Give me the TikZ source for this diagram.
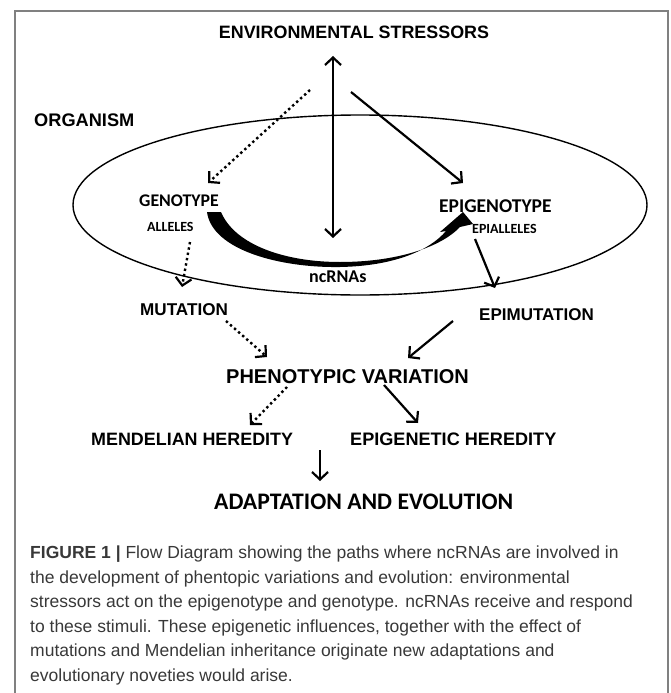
\documentclass[tikz,border=0pt]{standalone}
\usepackage{fontspec}
\setmainfont{Liberation Sans}
\newfontfamily\calib{Carlito}
\usetikzlibrary{arrows.meta}

\begin{document}
\begin{tikzpicture}[x=1pt,y=-1pt,
    arial/.style={font=\bfseries\fontsize{#1}{#1}\selectfont, inner sep=0pt, anchor=base west},
    calibri/.style={font=\calib\bfseries\fontsize{#1}{#1}\selectfont, inner sep=0pt, anchor=base west},
    barb/.tip={Straight Barb[length=7.5pt,width=16pt,line width=2.2pt]},
    flow/.style={line width=2.2pt, -barb},
    dotflow/.style={flow, line width=2.4pt, dash pattern=on 2.4pt off 3pt}]
    \useasboundingbox (0,0) rectangle (670,693);
    % frame
    \draw[gray, line width=1.5pt] (15,693) |- (668,11) -- (668,693);
    % organism
    \draw[line width=1.4pt] (360,205) ellipse [x radius=287, y radius=90];
    % labels
    \node[arial=17.9, anchor=base] (stress) at (354,39) {ENVIRONMENTAL STRESSORS};
    \node[arial=18.2] (organism) at (34,126) {ORGANISM};
    \node[calibri=17.8] (geno) at (139,206) {GENOTYPE};
    \node[calibri=14] (alleles) at (147,231) {ALLELES};
    \node[calibri=19.5] (epigeno) at (439,212) {EPIGENOTYPE};
    \node[calibri=14] (epialleles) at (472,233) {EPIALLELES};
    \node[calibri=18] (ncrna) at (309,282) {ncRNAs};
    \node[arial=17.1] (mut) at (140,315) {MUTATION};
    \node[arial=17.0] (epimut) at (479,320) {EPIMUTATION};
    \node[arial=20] (pheno) at (226,383) {PHENOTYPIC VARIATION};
    \node[arial=17.9] (mendel) at (91,445) {MENDELIAN HEREDITY};
    \node[arial=18.1] (epiher) at (350,445) {EPIGENETIC HEREDITY};
    \node[calibri=23.7] (adapt) at (214,509) {ADAPTATION AND EVOLUTION};
    % ends of the connectors
    \coordinate (stressTop) at (333,56);
    \coordinate (stressLow) at (333,238);
    \coordinate (stressL) at (310,90);
    \coordinate (stressR) at (351,92);
    \coordinate (genoIn) at (208,183);
    \coordinate (epigenoIn) at (463,183);
    \coordinate (allelesOut) at (190,242);
    \coordinate (mutIn) at (182,287);
    \coordinate (epiallelesOut) at (475,239);
    \coordinate (epimutIn) at (495,288);
    \coordinate (mutOut) at (226,321);
    \coordinate (epimutOut) at (453,321);
    \coordinate (phenoL) at (267,357);
    \coordinate (phenoR) at (408,358);
    \coordinate (phenoOutL) at (287,387);
    \coordinate (phenoOutR) at (384,385);
    \coordinate (mendelIn) at (250,425);
    \coordinate (epiherIn) at (418,423);
    \coordinate (herOut) at (320,450);
    \coordinate (adaptIn) at (320,481);
    % connectors
    \draw[flow, barb-barb] (stressTop) -- (stressLow);
    \draw[dotflow] (stressL) -- (genoIn);
    \draw[flow] (stressR) -- (epigenoIn);
    \draw[dotflow] (allelesOut) -- (mutIn);
    \draw[flow] (epiallelesOut) -- (epimutIn);
    \draw[dotflow] (mutOut) -- (phenoL);
    \draw[flow] (epimutOut) -- (phenoR);
    \draw[dotflow] (phenoOutL) -- (mendelIn);
    \draw[flow] (phenoOutR) -- (epiherIn);
    \draw[flow] (herOut) -- (adaptIn);
    % ncRNA arc
    \fill (207,212) .. controls (212,250) and (280,268) .. (340,267)
        .. controls (395,266) and (430,250) .. (446,231) -- (440,232) -- (463,212)
        -- (473,224) -- (460,227) .. controls (440,248) and (395,262) .. (340,262)
        .. controls (285,262) and (235,245) .. (221,212) -- cycle;
    % caption
    \node[font=\fontsize{17.5}{24.5}\selectfont, text=black!78, align=left, inner sep=0pt, anchor=base west] (caption) at (30,681)
        {\textbf{FIGURE 1 |} Flow Diagram showing the paths where ncRNAs are involved in\\
        the development of phentopic variations and evolution: environmental\\
        stressors act on the epigenotype and genotype. ncRNAs receive and respond\\
        to these stimuli. These epigenetic influences, together with the effect of\\
        mutations and Mendelian inheritance originate new adaptations and\\
        evolutionary noveties would arise.};
\end{tikzpicture}
\end{document}
